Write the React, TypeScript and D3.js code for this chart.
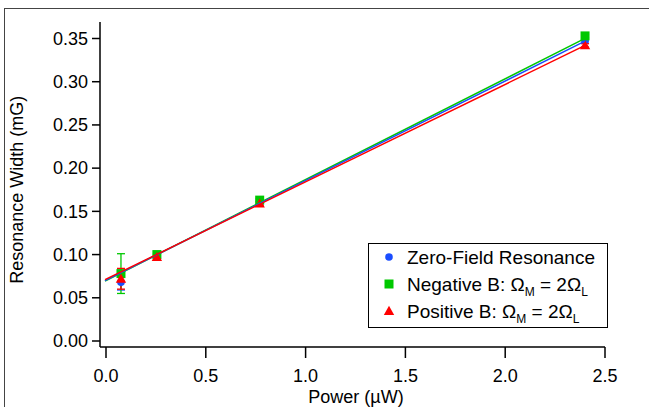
import React from "react";
import * as d3 from "d3";

const powers = [0.075, 0.255, 0.77, 2.4];
const zeroField = [0.068, 0.099, 0.161, 0.348];
const zeroFieldErr = [0.009, 0.002, 0.002, 0.002];
const negativeB = [0.078, 0.1, 0.163, 0.353];
const negativeBErr = [0.023, 0.003, 0.002, 0.002];
const positiveB = [0.072, 0.097, 0.159, 0.342];
const positiveBErr = [0.012, 0.003, 0.002, 0.002];
const fitIntercepts = [0.0705, 0.07, 0.0715];
const fitSlopes = [0.1152, 0.1167, 0.1127];
const fitRange = [-0.005, 2.4];
const xTicks = [0, 0.5, 1.0, 1.5, 2.0, 2.5];
const yTicks = [0, 0.05, 0.1, 0.15, 0.2, 0.25, 0.3, 0.35];
const seriesNames = ["Zero-Field Resonance", "Negative B: ", "Positive B: "];

const colors = ["#1a4dff", "#00c800", "#ff0000"];
const FONT = "Liberation Sans, Arial, Helvetica, sans-serif";

export default function App() {
  const x = d3.scaleLinear().domain([0, 2.5]).range([106, 605]);
  const y = d3.scaleLinear().domain([0, 0.35]).range([341, 38.5]);
  const axisX = 100;
  const axisY = 347;
  const series = [
    { vals: zeroField, err: zeroFieldErr },
    { vals: negativeB, err: negativeBErr },
    { vals: positiveB, err: positiveBErr },
  ];

  const marker = (k: number, cx: number, cy: number, key: string) => {
    if (k === 0) return <circle key={key} cx={cx} cy={cy} r={3.8} fill={colors[0]} />;
    if (k === 1)
      return <rect key={key} x={cx - 4.5} y={cy - 4.5} width={9} height={9} fill={colors[1]} />;
    const s = 5.2;
    return (
      <path
        key={key}
        d={`M${cx},${cy - s}L${cx + s},${cy + s * 0.75}L${cx - s},${cy + s * 0.75}Z`}
        fill={colors[2]}
      />
    );
  };

  return (
    <svg
      width={649}
      height={407}
      style={{ position: "absolute", left: 0, top: 0, background: "#fff" }}
      fontFamily={FONT}
    >
      <rect x={4.5} y={8.5} width={700} height={500} fill="none" stroke="#444" strokeWidth={1} />
      {/* axes */}
      <line x1={axisX} x2={axisX} y1={22} y2={axisY} stroke="#000" strokeWidth={1.5} />
      <line x1={axisX} x2={x(2.5)} y1={axisY} y2={axisY} stroke="#000" strokeWidth={1.5} />
      {yTicks.map((t) => (
        <g key={"y" + t}>
          <line x1={axisX - 8} x2={axisX} y1={y(t)} y2={y(t)} stroke="#000" strokeWidth={1.5} />
          <text x={axisX - 12} y={y(t)} dy="0.35em" textAnchor="end" fontSize={18}>
            {t.toFixed(2)}
          </text>
        </g>
      ))}
      {xTicks.map((t) => (
        <g key={"x" + t}>
          <line x1={x(t)} x2={x(t)} y1={axisY} y2={axisY + 11} stroke="#000" strokeWidth={1.5} />
          <text x={x(t)} y={axisY + 35} textAnchor="middle" fontSize={18}>
            {t.toFixed(1)}
          </text>
        </g>
      ))}
      <text x={356} y={403} textAnchor="middle" fontSize={18}>
        Power (µW)
      </text>
      <text
        transform={`translate(23,${(y(0) + y(0.35)) / 2}) rotate(-90)`}
        textAnchor="middle"
        fontSize={18}
      >
        Resonance Width (mG)
      </text>
      {/* error bars */}
      {series.map((s, k) =>
        s.vals.map((v, i) => {
          const cx = x(powers[i]);
          const y1 = y(v - s.err[i]);
          const y2 = y(v + s.err[i]);
          return (
            <g key={`e${k}-${i}`} stroke={colors[k]} strokeWidth={1.3}>
              <line x1={cx} x2={cx} y1={y1} y2={y2} />
              <line x1={cx - 4} x2={cx + 4} y1={y1} y2={y1} />
              <line x1={cx - 4} x2={cx + 4} y1={y2} y2={y2} />
            </g>
          );
        })
      )}
      {series.map((s, k) => s.vals.map((v, i) => marker(k, x(powers[i]), y(v), `m${k}-${i}`)))}
      {/* fits */}
      {[1, 0, 2].map((k) => {
        const d = d3
          .line<number>()
          .x((p) => x(p))
          .y((p) => y(fitIntercepts[k] + fitSlopes[k] * p))(fitRange);
        return <path key={"f" + k} d={d || ""} fill="none" stroke={colors[k]} strokeWidth={1.5} />;
      })}
      {/* legend */}
      <rect x={368.5} y={243.5} width={239} height={84} fill="#fff" stroke="#000" strokeWidth={1} />
      {seriesNames.map((name, k) => {
        const ly = 257 + k * 27;
        return (
          <g key={"l" + k}>
            {marker(k, 389, ly, "lm" + k)}
            <text x={407} y={ly} dy="0.35em" fontSize={19}>
              {name}
              {k > 0 && (
                <>
                  <tspan>Ω</tspan>
                  <tspan fontSize={12} dy={5}>M</tspan>
                  <tspan dy={-5}> = 2Ω</tspan>
                  <tspan fontSize={12} dy={5}>L</tspan>
                </>
              )}
            </text>
          </g>
        );
      })}
    </svg>
  );
}
